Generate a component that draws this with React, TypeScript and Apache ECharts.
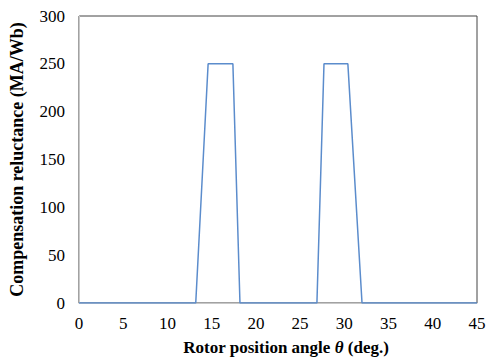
import React, { useEffect, useRef } from "react";
import * as echarts from "echarts";

const angles = [0, 13.2, 14.6, 17.4, 18.2, 26.9, 27.7, 30.4, 32.0, 45];
const reluctance = [0, 0, 250, 250, 0, 0, 250, 250, 0, 0];
const xTicks = { min: 0, max: 45, interval: 5 };
const yTicks = { min: 0, max: 300, interval: 50 };

export default function App() {
  const ref = useRef<HTMLDivElement>(null);
  useEffect(() => {
    if (!ref.current) return;
    const chart = echarts.init(ref.current, null, { renderer: "svg" });
    const font = "'Liberation Serif', 'Times New Roman', serif";
    chart.setOption({
      animation: false,
      textStyle: { fontFamily: font },
      grid: {
        left: 75,
        right: 14,
        top: 16,
        bottom: 56,
        show: true,
        borderColor: "#444",
        borderWidth: 1,
      },
      xAxis: {
        type: "value",
        ...xTicks,
        name: "Rotor position angle {i|θ} (deg.)",
        nameLocation: "middle",
        nameGap: 36,
        nameTextStyle: {
          fontFamily: font,
          fontSize: 17,
          fontWeight: "bold",
          color: "#000",
          padding: [0, 0, 0, 16],
          rich: {
            i: { fontFamily: font, fontSize: 17, fontWeight: "bold", fontStyle: "italic", color: "#000" },
          },
        },
        axisLine: { show: true, lineStyle: { color: "#c8c8c8", width: 1 } },
        axisTick: { show: false },
        splitLine: { show: false },
        axisLabel: { fontFamily: font, fontSize: 17, color: "#000", margin: 12 },
      },
      yAxis: {
        type: "value",
        ...yTicks,
        name: "Compensation reluctance (MA/Wb)",
        nameLocation: "middle",
        nameGap: 53,
        nameTextStyle: { fontFamily: font, fontSize: 18, fontWeight: "bold", color: "#000" },
        axisLine: { show: true, lineStyle: { color: "#c8c8c8", width: 1 } },
        axisTick: { show: false },
        splitLine: { show: false },
        axisLabel: { fontFamily: font, fontSize: 17, color: "#000", margin: 14 },
      },
      series: [
        {
          type: "line",
          data: angles.map((a, i) => [a, reluctance[i]]),
          showSymbol: false,
          lineStyle: { color: "#5b8ccc", width: 1.5 },
          itemStyle: { color: "#5b8ccc" },
        },
      ],
    });
    return () => chart.dispose();
  }, []);
  return (
    <div
      ref={ref}
      style={{ position: "absolute", left: 0, top: 0, width: 491, height: 361 }}
    />
  );
}
